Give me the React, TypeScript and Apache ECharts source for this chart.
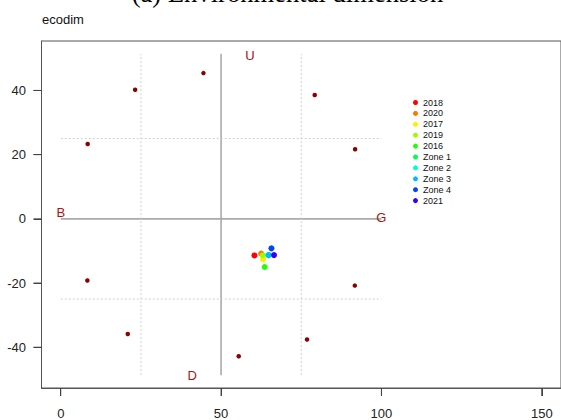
import { useEffect, useRef } from "react";
import * as echarts from "echarts";

// Group points (years / zones)
const groupNames = ["2018", "2020", "2017", "2019", "2016", "Zone 1", "Zone 2", "Zone 3", "Zone 4", "2021"];
const groupX = [60.4, 62.5, 63.1, 63.0, 63.6, 64.8, 64.8, 64.8, 65.7, 66.5];
const groupY = [-11.4, -10.8, -12.6, -11.4, -15.0, -11.3, -11.3, -11.3, -9.2, -11.3];
const groupColors = ["#FF0000", "#FF7700", "#FFEE00", "#99FF00", "#22FF00", "#00FF55", "#00FFCC", "#00BBFF", "#0044FF", "#3300FF"];

// Reference (dark red) points
const refX = [8.4, 23.2, 44.5, 79.2, 91.8, 8.3, 91.7, 20.9, 55.5, 76.8];
const refY = [23.3, 40.2, 45.4, 38.6, 21.7, -19.2, -20.8, -35.9, -42.8, -37.6];

// Pole labels
const poleNames = ["B", "U", "G", "D"];
const poleX = [0, 59, 100, 41];
const poleY = [1.9, 51, 0.4, -48.8];

// Reference segments
const solidSegments = [
  [[0, 0], [100, 0]],
  [[50, -48.7], [50, 51.4]],
];
const dottedSegments = [
  [[25, -48.7], [25, 51.4]],
  [[75, -48.7], [75, 51.4]],
  [[0, 25], [100, 25]],
  [[0, -25], [100, -25]],
];

// Axis ranges and ticks
const X_MIN = -6;
const X_MAX = 156;
const Y_MIN = -52.7;
const Y_MAX = 55.4;
const xTicks = [0, 50, 100, 150];
const yTicks = [-40, -20, 0, 20, 40];

const SANS = "'Liberation Sans', Arial, sans-serif";
const TICK_LEN = 8;

export default function App() {
  const ref = useRef<HTMLDivElement>(null);
  useEffect(() => {
    const chart = echarts.init(ref.current!, null, { renderer: "svg" });
    const series: any[] = [];
    solidSegments.forEach((seg) =>
      series.push({
        type: "line",
        data: seg,
        symbol: "none",
        silent: true,
        lineStyle: { color: "#AAAAAA", width: 1.6 },
        z: 1,
      })
    );
    dottedSegments.forEach((seg) =>
      series.push({
        type: "line",
        data: seg,
        symbol: "none",
        silent: true,
        lineStyle: { color: "#D0D0D0", width: 1, type: [2, 2] },
        z: 1,
      })
    );
    series.push({
      type: "scatter",
      name: "ref",
      data: refX.map((x, i) => [x, refY[i]]),
      symbolSize: 4.5,
      itemStyle: { color: "#8B0000", opacity: 1 },
      z: 2,
    });
    series.push({
      type: "scatter",
      name: "poles",
      data: poleNames.map((n, i) => ({ name: n, value: [poleX[i], poleY[i]] })),
      symbolSize: 1,
      itemStyle: { color: "transparent", opacity: 1 },
      label: {
        show: true,
        position: "inside",
        formatter: (p: any) => p.name,
        color: "#A31515",
        fontSize: 13,
        fontFamily: SANS,
      },
      z: 3,
    });
    groupNames.forEach((n, i) =>
      series.push({
        type: "scatter",
        name: n,
        data: [[groupX[i], groupY[i]]],
        symbolSize: 6,
        itemStyle: { color: groupColors[i], opacity: 1 },
        z: 4,
      })
    );
    // tick marks as small rect symbols just outside the box
    series.push({
      type: "scatter",
      name: "xtickmarks",
      silent: true,
      clip: false,
      symbol: "rect",
      symbolSize: [1, TICK_LEN],
      symbolOffset: [0, TICK_LEN / 2],
      itemStyle: { color: "#444", opacity: 1 },
      data: xTicks.map((v) => [v, Y_MIN]),
      z: 20,
    });
    series.push({
      type: "scatter",
      name: "ytickmarks",
      silent: true,
      clip: false,
      symbol: "rect",
      symbolSize: [TICK_LEN, 1],
      symbolOffset: [-TICK_LEN / 2, 0],
      itemStyle: { color: "#444", opacity: 1 },
      data: yTicks.map((v) => [X_MIN, v]),
      z: 20,
    });

    chart.setOption({
      animation: false,
      backgroundColor: "#fff",
      grid: {
        left: 41.5,
        top: 41,
        width: 520,
        height: 350,
        show: true,
        borderColor: "#555",
        borderWidth: 1,
        backgroundColor: "transparent",
      },
      xAxis: {
        type: "value",
        min: X_MIN,
        max: X_MAX,
        position: "bottom",
        axisLine: { show: true, onZero: false, lineStyle: { color: "#555", width: 1 } },
        splitLine: { show: false },
        axisTick: { show: true, inside: false, length: TICK_LEN, customValues: xTicks, lineStyle: { color: "#444", width: 1 } },
        axisLabel: { customValues: xTicks, margin: 19, fontSize: 13, color: "#222", fontFamily: SANS },
      },
      yAxis: {
        type: "value",
        min: Y_MIN,
        max: Y_MAX,
        position: "left",
        axisLine: { show: true, onZero: false, lineStyle: { color: "#555", width: 1 } },
        splitLine: { show: false },
        axisTick: { show: true, inside: false, length: TICK_LEN, customValues: yTicks, lineStyle: { color: "#444", width: 1 } },
        axisLabel: { customValues: yTicks, margin: 15.5, fontSize: 13, color: "#222", fontFamily: SANS },
      },
      legend: {
        data: groupNames,
        orient: "vertical",
        left: 413,
        top: 98,
        icon: "circle",
        itemWidth: 5,
        itemHeight: 5,
        itemGap: 1.9,
        padding: 0,
        textStyle: { fontSize: 9, lineHeight: 9, color: "#111", fontFamily: SANS },
      },
      graphic: [
        {
          type: "text",
          style: {
            text: "(a) Environmental dimension",
            font: "26.6px 'Liberation Serif', 'Times New Roman', serif",
            fill: "#000",
            x: 287.5,
            y: -7.5,
            align: "center",
            verticalAlign: "middle",
          },
        },
        {
          type: "text",
          style: {
            text: "ecodim",
            font: "13px 'Liberation Sans', Arial, sans-serif",
            fill: "#111",
            x: 42,
            y: 19.5,
            align: "left",
            verticalAlign: "middle",
          },
        },
      ],
      series,
    });

    return () => chart.dispose();
  }, []);
  return (
    <div
      ref={ref}
      style={{ position: "fixed", left: 0, top: 0, width: 561, height: 420, background: "#fff" }}
    />
  );
}
